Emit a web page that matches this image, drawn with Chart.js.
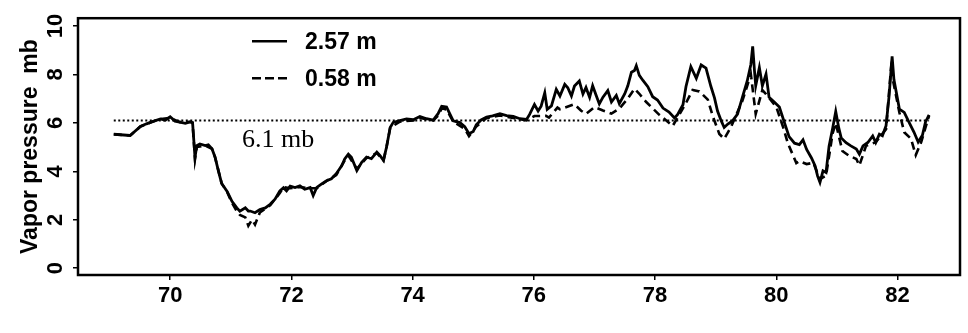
<!DOCTYPE html>
<html>
<head>
<meta charset="utf-8">
<script src="https://cdn.jsdelivr.net/npm/chart.js@4.4.1/dist/chart.umd.min.js"></script>
<style>
  body { margin: 0; background: #fff; }
  #wrap { width: 968px; height: 333px; }
</style>
</head>
<body>
<div id="wrap"><canvas id="grafico" width="968" height="333"></canvas></div>
<script>
// Dados (ano decimal, pressão de vapor em mb)
const seriesLabels = ['2.57 m', '0.58 m'];

const solidYears = [69.07, 69.34, 69.51, 69.61, 69.72, 69.84, 69.92, 70.00, 70.08, 70.16, 70.25, 70.33, 70.37, 70.41, 70.44, 70.49, 70.58, 70.63, 70.69, 70.74, 70.80, 70.85, 70.94, 71.02, 71.10, 71.15, 71.24, 71.29, 71.32, 71.40, 71.48, 71.57, 71.65, 71.73, 71.81, 71.87, 71.92, 71.98, 72.06, 72.14, 72.22, 72.31, 72.36, 72.42, 72.50, 72.58, 72.66, 72.74, 72.83, 72.88, 72.94, 72.99, 73.08, 73.16, 73.24, 73.32, 73.41, 73.46, 73.52, 73.57, 73.63, 73.68, 73.79, 73.90, 74.01, 74.12, 74.23, 74.34, 74.42, 74.48, 74.56, 74.61, 74.67, 74.78, 74.86, 74.93, 75.00, 75.05, 75.13, 75.22, 75.32, 75.44, 75.55, 75.66, 75.77, 75.88, 75.93, 76.01, 76.07, 76.12, 76.18, 76.22, 76.29, 76.37, 76.43, 76.51, 76.56, 76.62, 76.67, 76.75, 76.81, 76.86, 76.92, 76.97, 77.03, 77.08, 77.14, 77.22, 77.28, 77.36, 77.41, 77.50, 77.55, 77.61, 77.66, 77.69, 77.74, 77.80, 77.88, 77.96, 78.04, 78.13, 78.23, 78.32, 78.37, 78.46, 78.51, 78.59, 78.68, 78.76, 78.84, 78.92, 78.98, 79.03, 79.09, 79.14, 79.20, 79.28, 79.36, 79.44, 79.52, 79.58, 79.61, 79.64, 79.66, 79.72, 79.77, 79.83, 79.88, 79.97, 80.05, 80.13, 80.21, 80.30, 80.38, 80.44, 80.50, 80.58, 80.64, 80.68, 80.72, 80.77, 80.82, 80.87, 80.93, 80.98, 81.03, 81.07, 81.15, 81.23, 81.32, 81.37, 81.43, 81.51, 81.59, 81.64, 81.70, 81.75, 81.81, 81.86, 81.91, 81.94, 82.03, 82.11, 82.19, 82.27, 82.34, 82.41, 82.46, 82.52];
const solidValues = [5.53, 5.48, 5.85, 5.96, 6.06, 6.16, 6.11, 6.25, 6.07, 6.03, 5.98, 6.04, 6.01, 4.58, 5.06, 5.13, 5.06, 5.09, 4.93, 4.59, 3.98, 3.50, 3.17, 2.76, 2.49, 2.35, 2.49, 2.36, 2.36, 2.29, 2.42, 2.49, 2.64, 2.85, 3.19, 3.32, 3.19, 3.39, 3.33, 3.40, 3.26, 3.33, 3.00, 3.34, 3.48, 3.61, 3.69, 3.90, 4.23, 4.51, 4.71, 4.58, 4.03, 4.37, 4.59, 4.52, 4.79, 4.66, 4.45, 5.00, 5.81, 6.02, 6.09, 6.16, 6.13, 6.26, 6.17, 6.11, 6.38, 6.68, 6.65, 6.39, 6.08, 6.01, 5.84, 5.55, 5.64, 5.92, 6.12, 6.24, 6.29, 6.38, 6.30, 6.27, 6.17, 6.14, 6.35, 6.76, 6.49, 6.69, 7.24, 6.56, 6.70, 7.38, 7.11, 7.59, 7.45, 7.11, 7.52, 7.73, 7.19, 7.46, 7.05, 7.53, 7.12, 6.78, 7.06, 7.33, 6.86, 7.13, 6.79, 7.20, 7.53, 8.09, 8.16, 8.36, 7.96, 7.75, 7.49, 7.08, 6.94, 6.61, 6.45, 6.20, 6.34, 6.75, 7.50, 8.32, 7.84, 8.39, 8.26, 7.51, 7.03, 6.49, 6.09, 5.81, 5.95, 6.09, 6.36, 7.05, 7.73, 8.41, 9.16, 8.14, 7.53, 8.28, 7.53, 8.01, 7.06, 6.85, 6.65, 6.04, 5.43, 5.16, 5.10, 5.30, 4.90, 4.55, 4.22, 3.81, 3.54, 4.02, 3.95, 5.04, 5.79, 6.47, 5.79, 5.38, 5.18, 5.05, 4.92, 4.71, 5.05, 5.19, 5.46, 5.19, 5.53, 5.47, 5.88, 7.10, 8.74, 7.79, 6.57, 6.43, 6.02, 5.62, 5.21, 5.49, 6.03, 6.33];

const dashedYears = [69.07, 69.34, 69.51, 69.72, 69.84, 70.00, 70.16, 70.33, 70.37, 70.41, 70.44, 70.58, 70.69, 70.74, 70.85, 70.94, 71.02, 71.10, 71.15, 71.24, 71.29, 71.35, 71.40, 71.48, 71.57, 71.65, 71.81, 71.87, 71.98, 72.14, 72.31, 72.42, 72.58, 72.74, 72.88, 72.94, 73.08, 73.24, 73.41, 73.52, 73.57, 73.63, 73.79, 74.01, 74.12, 74.34, 74.42, 74.48, 74.56, 74.67, 74.86, 74.93, 75.05, 75.22, 75.44, 75.66, 75.88, 76.01, 76.20, 76.25, 76.39, 76.43, 76.67, 76.78, 76.86, 77.00, 77.14, 77.28, 77.41, 77.55, 77.66, 77.74, 77.85, 77.96, 78.07, 78.26, 78.29, 78.51, 78.62, 78.73, 78.87, 78.95, 79.06, 79.14, 79.25, 79.44, 79.58, 79.66, 79.77, 79.83, 80.00, 80.11, 80.19, 80.33, 80.38, 80.50, 80.61, 80.72, 80.82, 80.93, 80.98, 81.09, 81.20, 81.32, 81.37, 81.48, 81.64, 81.81, 81.89, 82.03, 82.11, 82.22, 82.30, 82.39, 82.46, 82.52];
const dashedValues = [5.53, 5.48, 5.85, 6.06, 6.16, 6.20, 6.03, 6.04, 6.00, 4.50, 5.00, 5.06, 4.93, 4.59, 3.50, 3.15, 2.70, 2.35, 2.20, 2.10, 1.75, 2.00, 1.80, 2.30, 2.45, 2.60, 3.10, 3.35, 3.30, 3.35, 3.30, 3.30, 3.60, 3.85, 4.45, 4.65, 4.10, 4.55, 4.75, 4.45, 5.00, 5.80, 6.05, 6.10, 6.20, 6.10, 6.30, 6.60, 6.55, 6.05, 5.75, 5.45, 5.85, 6.20, 6.30, 6.20, 6.10, 6.28, 6.29, 6.22, 6.63, 6.56, 6.77, 6.50, 6.37, 6.65, 6.51, 6.38, 6.59, 7.00, 7.41, 7.20, 6.87, 6.60, 6.33, 5.94, 5.87, 6.82, 7.36, 7.30, 6.96, 6.29, 5.54, 5.34, 5.82, 6.91, 8.00, 6.37, 7.35, 7.19, 6.65, 5.84, 5.16, 4.34, 4.42, 4.30, 4.35, 3.68, 3.82, 5.58, 5.99, 4.84, 4.64, 4.51, 4.24, 5.05, 5.20, 5.74, 8.19, 6.43, 5.61, 5.35, 4.67, 5.21, 5.80, 6.30];

// Linha de referência (média) e marcações dos eixos
const refLevel = 6.1;
const refSpan = [69.07, 82.52];
const xTicks = [70, 72, 74, 76, 78, 80, 82];
const yTicks = [0, 2, 4, 6, 8, 10];

const toPoints = (xs, ys) => xs.map((x, i) => ({ x, y: ys[i] }));

Chart.defaults.font.family = "'Liberation Sans', Arial, sans-serif";
Chart.defaults.color = '#000';

// Moldura, legenda e rótulo da linha de referência
const molduraPlugin = {
    id: 'moldura',
    afterDatasetsDraw(chart) {
        const { ctx, chartArea: a, scales } = chart;
        ctx.save();
        ctx.strokeStyle = '#000';
        ctx.lineWidth = 2.5;
        ctx.strokeRect(a.left, a.top, a.right - a.left, a.bottom - a.top);

        // legenda
        ctx.font = "bold 23px 'Liberation Sans', Arial, sans-serif";
        ctx.fillStyle = '#000';
        ctx.textBaseline = 'middle';
        const linhas = [
            { y: a.top + 23, dash: [] },
            { y: a.top + 60, dash: [9, 4] }
        ];
        linhas.forEach((l, i) => {
            ctx.setLineDash(l.dash);
            ctx.lineWidth = 2.5;
            ctx.beginPath();
            ctx.moveTo(a.left + 174, l.y);
            ctx.lineTo(a.left + 209, l.y);
            ctx.stroke();
            ctx.fillText(seriesLabels[i], a.left + 227, l.y + 1);
        });
        ctx.setLineDash([]);

        // rótulo 6.1 mb
        ctx.font = "26px 'Liberation Serif', 'Times New Roman', serif";
        ctx.fillText(refLevel + ' mb', a.left + 164, scales.y.getPixelForValue(refLevel) + 20);
        ctx.restore();
    }
};

new Chart(document.getElementById('grafico'), {
    type: 'line',
    data: {
        datasets: [
            {
                label: seriesLabels[1],
                data: toPoints(dashedYears, dashedValues),
                borderColor: '#000',
                borderWidth: 2.6,
                borderDash: [8, 5],
                pointRadius: 0,
                tension: 0
            },
            {
                label: seriesLabels[0],
                data: toPoints(solidYears, solidValues),
                borderColor: '#000',
                borderWidth: 2.8,
                pointRadius: 0,
                tension: 0
            },
            {
                label: 'ref',
                data: toPoints(refSpan, [refLevel, refLevel]),
                borderColor: '#000',
                borderWidth: 2,
                borderDash: [2, 2.5],
                pointRadius: 0
            }
        ]
    },
    options: {
        responsive: false,
        animation: false,
        devicePixelRatio: 1,
        layout: { padding: { top: 16, right: 8, left: 0, bottom: 0 } },
        plugins: { legend: { display: false }, tooltip: { enabled: false } },
        scales: {
            x: {
                type: 'linear',
                min: 68.48,
                max: 83.03,
                afterBuildTicks: s => { s.ticks = xTicks.map(v => ({ value: v })); },
                afterFit: s => { s.height = 58; },
                border: { display: false },
                grid: { drawOnChartArea: false, tickLength: 5, color: '#000', lineWidth: 1.5 },
                ticks: {
                    autoSkip: false,
                    maxRotation: 0,
                    padding: 3,
                    font: { size: 22, weight: 'bold' },
                    callback: v => String(v)
                }
            },
            y: {
                type: 'linear',
                min: -0.28,
                max: 10.32,
                afterBuildTicks: s => { s.ticks = yTicks.map(v => ({ value: v })); },
                afterFit: s => { s.width = 78; },
                border: { display: false },
                grid: { drawOnChartArea: false, tickLength: 5, color: '#000', lineWidth: 1.5 },
                ticks: {
                    minRotation: 90,
                    maxRotation: 90,
                    crossAlign: 'center',
                    padding: 5,
                    font: { size: 22, weight: 'bold' },
                    callback: v => String(v)
                },
                title: {
                    display: true,
                    text: 'Vapor pressure  mb',
                    font: { size: 23, weight: 'bold' },
                    padding: { top: 17, bottom: 0 }
                }
            }
        }
    },
    plugins: [molduraPlugin]
});
</script>
</body>
</html>
